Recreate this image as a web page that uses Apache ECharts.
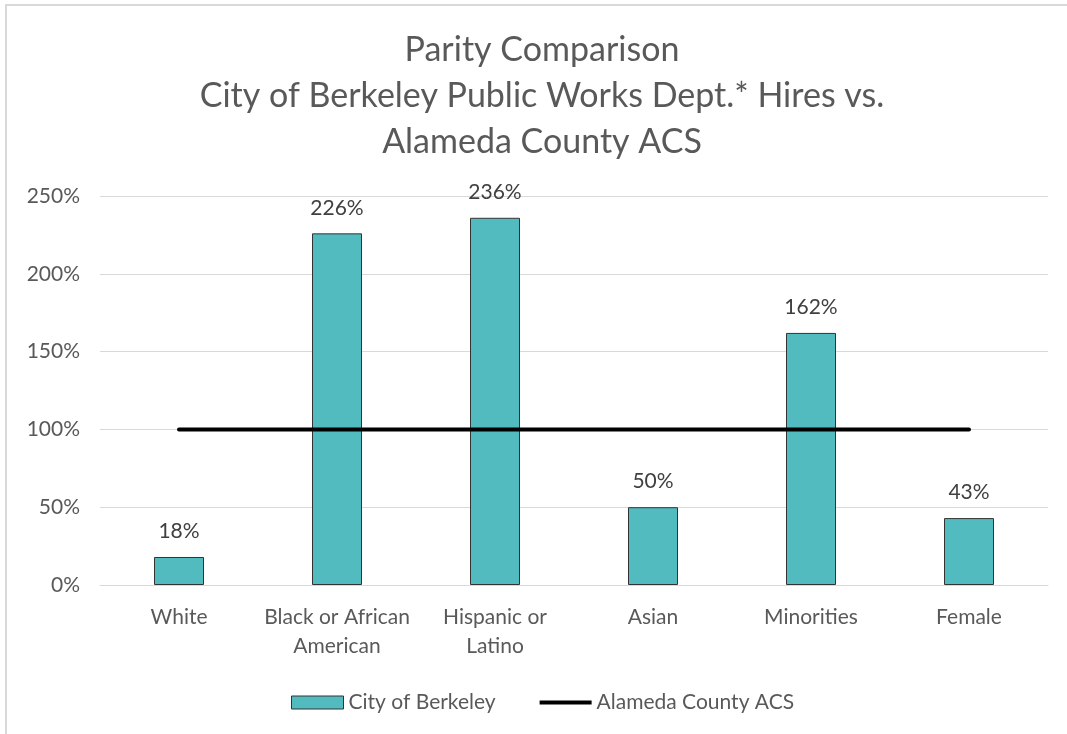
<!DOCTYPE html>
<html><head><meta charset="utf-8">
<script src="https://cdn.jsdelivr.net/npm/echarts@6/dist/echarts.min.js"></script>
<style>html,body{margin:0;padding:0;background:#fff}#c{width:1067px;height:734px}</style>
</head><body><div id="c"></div>
<script>
const categories = ['White', 'Black or African\nAmerican', 'Hispanic or\nLatino', 'Asian', 'Minorities', 'Female'];
const cityOfBerkeley = [18, 226, 236, 50, 162, 43];
const alamedaCountyACS = [100, 100, 100, 100, 100, 100];
const yTicks = { min: 0, max: 250, interval: 50 };
const FONT = 'Lato, "Open Sans", sans-serif';
const chart = echarts.init(document.getElementById('c'), null, {renderer: 'canvas'});
chart.setOption({
  animation: false,
  textStyle: { fontFamily: FONT },
  graphic: [{ type: 'polyline', shape: { points: [[6, 734], [6, 5], [1067, 5]] }, style: { stroke: '#d9d9d9', lineWidth: 2, fill: null } }],
  title: {
    text: 'Parity Comparison\nCity of Berkeley Public Works Dept.* Hires vs.\nAlameda County ACS',
    left: 537, textAlign: 'center', top: 22,
    textStyle: { fontSize: 34, lineHeight: 46, fontWeight: 'normal', color: '#595959', fontFamily: FONT }
  },
  legend: {
    top: 687, left: 286, itemGap: 44,
    textStyle: { fontSize: 21, color: '#595959', fontFamily: FONT },
    data: [
      { name: 'City of Berkeley', icon: 'rect', itemStyle: { borderColor: '#333', borderWidth: 1 } },
      { name: 'Alameda County ACS', icon: 'path://M0,0 H50 V4 H0 Z' }
    ],
    itemWidth: 52, itemHeight: 13
  },
  grid: { left: 100, right: 19, top: 196, bottom: 149 },
  xAxis: {
    type: 'category', data: categories,
    axisLine: { lineStyle: { color: '#d9d9d9' } }, axisTick: { show: false },
    axisLabel: { interval: 0, fontSize: 21, color: '#595959', lineHeight: 29, margin: 18, fontFamily: FONT }
  },
  yAxis: {
    type: 'value', min: yTicks.min, max: yTicks.max, interval: yTicks.interval,
    axisLabel: { formatter: '{value}%', fontSize: 21, color: '#595959', margin: 20, fontFamily: FONT },
    splitLine: { lineStyle: { color: '#d9d9d9' } }
  },
  series: [
    {
      name: 'City of Berkeley', type: 'bar', data: cityOfBerkeley, barWidth: 50,
      itemStyle: { color: '#52BBC0', borderColor: '#333', borderWidth: 1 },
      label: { show: true, position: 'top', distance: 15, formatter: '{c}%', fontSize: 21, color: '#404040', fontFamily: FONT }
    },
    {
      name: 'Alameda County ACS', type: 'line', data: alamedaCountyACS, symbol: 'none',
      lineStyle: { color: '#000', width: 4, cap: 'round' }, itemStyle: { color: '#000' }
    }
  ]
});
</script></body></html>
